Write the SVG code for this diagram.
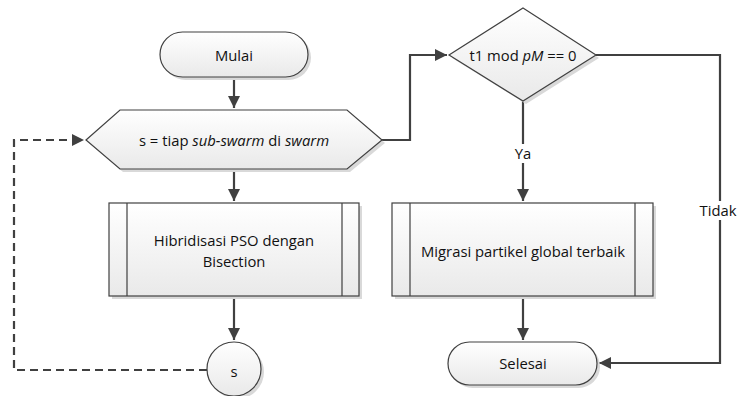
<svg xmlns="http://www.w3.org/2000/svg" width="738" height="396" viewBox="0 0 738 396">
<defs>
<linearGradient id="g" x1="0" y1="0" x2="0" y2="1">
<stop offset="0" stop-color="#ffffff"/>
<stop offset="1" stop-color="#e9e9e9"/>
</linearGradient>
<marker id="ahL" viewBox="0 0 12 12" refX="12" refY="6" markerWidth="12" markerHeight="12" markerUnits="userSpaceOnUse" orient="auto">
<path d="M0,0 L12,6 L0,12 Z" fill="#404040"/>
</marker>
</defs>
<style>
.sh{fill:#d9d9d9;stroke:none}
.nd{fill:url(#g);stroke:#404040;stroke-width:1.2}
.in{stroke:#404040;stroke-width:1.2;fill:none}
.t{font-family:"Open Sans","Liberation Sans",sans-serif;font-size:14.8px;fill:#111111;text-anchor:middle;dominant-baseline:central}
.c{fill:none;stroke:#404040;stroke-width:2.2}
.d{stroke-dasharray:8,5}
.lb{fill:#ffffff;stroke:none}
</style>
<rect width="738" height="396" fill="#ffffff"/>
<g id="connectors">
<path class="c" d="M234,77 V108" marker-end="url(#ahL)"/>
<path class="c" d="M234,169 V201" marker-end="url(#ahL)"/>
<path class="c" d="M234,296 V340" marker-end="url(#ahL)"/>
<path class="c d" d="M207,370 H14 V140 H84" marker-end="url(#ahL)"/>
<path class="c" d="M382,140 H410 V55 H447" marker-end="url(#ahL)"/>
<path class="c" d="M523,101 V201" marker-end="url(#ahL)"/>
<path class="c" d="M523,296 V340" marker-end="url(#ahL)"/>
<path class="c" d="M596,55 H720 V363 H599" marker-end="url(#ahL)"/>
<rect class="lb" x="510" y="144" width="26" height="19"/>
<text class="t" x="523" y="153">Ya</text>
<rect class="lb" x="697" y="201" width="42" height="19"/>
<text class="t" x="718" y="210">Tidak</text>
</g>
<g id="mulai">
<rect class="sh" x="163" y="35" width="148" height="45" rx="22.5"/>
<rect class="nd" x="160" y="32" width="148" height="45" rx="22.5"/>
<text class="t" x="234" y="55">Mulai</text>
</g>
<g id="loop">
<polygon class="sh" points="89,143 123,113 350,113 385,143 350,172 123,172"/>
<polygon class="nd" points="86,140 120,110 347,110 382,140 347,169 120,169"/>
<text class="t" x="234" y="140">s = tiap <tspan font-style="italic">sub-swarm</tspan> di <tspan font-style="italic">swarm</tspan></text>
</g>
<g id="hibridisasi">
<rect class="sh" x="112" y="206" width="250" height="93"/>
<rect class="nd" x="109" y="203" width="250" height="93"/>
<path class="in" d="M127,203 V296 M342,203 V296"/>
<text class="t" x="234" y="240">Hibridisasi PSO dengan</text>
<text class="t" x="234" y="261">Bisection</text>
</g>
<g id="connector-s">
<circle class="sh" cx="237" cy="372" r="27"/>
<circle class="nd" cx="234" cy="369" r="27"/>
<text class="t" x="234" y="371">s</text>
</g>
<g id="decision">
<polygon class="sh" points="526,11 599,58 526,104 452,58"/>
<polygon class="nd" points="523,8 596,55 523,101 449,55"/>
<text class="t" x="523" y="55">t1 mod <tspan font-style="italic">pM</tspan> == 0</text>
</g>
<g id="migrasi">
<rect class="sh" x="395" y="206" width="261" height="93"/>
<rect class="nd" x="392" y="203" width="261" height="93"/>
<path class="in" d="M410,203 V296 M635,203 V296"/>
<text class="t" x="523" y="251">Migrasi partikel global terbaik</text>
</g>
<g id="selesai">
<rect class="sh" x="451" y="345" width="149" height="43" rx="21.5"/>
<rect class="nd" x="448" y="342" width="149" height="43" rx="21.5"/>
<text class="t" x="523" y="363">Selesai</text>
</g>
</svg>
